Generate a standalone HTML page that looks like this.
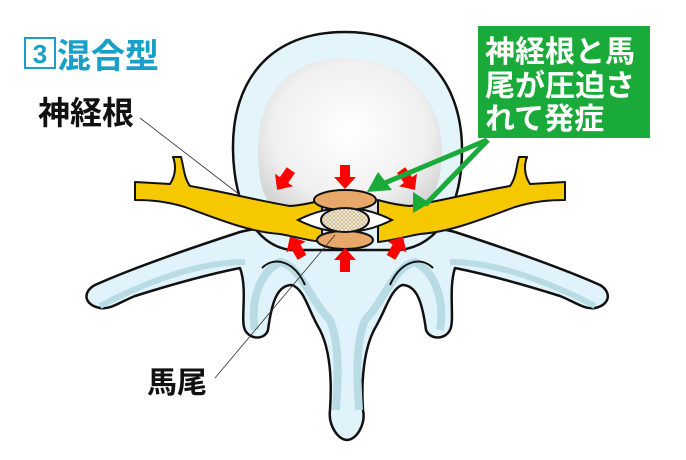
<!DOCTYPE html>
<html><head><meta charset="utf-8"><style>
html,body{margin:0;padding:0;background:#fff;}
svg{display:block}
text{font-family:"Liberation Sans","Noto Sans CJK JP",sans-serif;font-weight:bold}
</style></head><body>
<svg width="686" height="460" viewBox="0 0 686 460" xmlns="http://www.w3.org/2000/svg">
<rect width="686" height="460" fill="#fff"/>
<rect x="25" y="38" width="30" height="30" fill="#fff" stroke="#1aa0c8" stroke-width="2"/>
<text x="40" y="63" font-size="26" fill="#1aa0c8" text-anchor="middle">3</text>
<text x="57" y="68" font-size="34" fill="#1aa0c8">混合型</text>
<path d="M240,232 C200,245 140,265 95,285 C82,292 84,305 100,308 C110,310 120,302 135,296 C170,285 205,275 240,268 C248,290 240,320 245,330 C250,340 265,340 268,330 C272,300 278,285 292,285 C305,290 308,310 320,330 C330,350 332,380 330,410 C328,425 338,440 347,440 C356,440 366,425 363,410 C361,380 364,350 374,330 C386,310 390,290 402,285 C416,285 422,300 426,330 C430,340 445,340 450,330 C455,320 448,290 455,268 C490,275 525,285 560,296 C575,302 585,310 595,308 C610,305 612,292 600,285 C555,265 495,245 455,232 C420,222 275,222 240,232 Z" fill="#e1f3fa" stroke="#111" stroke-width="2.5" stroke-linejoin="round"/>
<path d="M100,306 C150,280 200,262 245,262" fill="none" stroke="#b8dbe4" stroke-width="6"/>
<path d="M595,306 C545,280 495,262 450,262" fill="none" stroke="#b8dbe4" stroke-width="6"/>
<path d="M255,330 C250,300 260,272 280,262 C300,265 310,300 330,320 C340,345 338,380 336,410" fill="none" stroke="#b8dbe4" stroke-width="8"/>
<path d="M440,330 C445,300 435,272 415,262 C395,265 385,300 365,320 C355,345 357,380 359,410" fill="none" stroke="#b8dbe4" stroke-width="8"/>
<path d="M262,268 C275,255 295,262 305,285" fill="none" stroke="#111" stroke-width="2"/>
<path d="M433,268 C420,255 400,262 390,285" fill="none" stroke="#111" stroke-width="2"/>
<path d="M345,32 C270,32 232,80 233,150 C234,205 255,245 290,250 L400,250 C440,245 462,205 462,150 C462,80 420,32 345,32 Z" fill="#e4f4fb" stroke="#111" stroke-width="2.5"/>
<defs><radialGradient id="g" cx="50%" cy="45%" r="60%"><stop offset="0" stop-color="#fff"/><stop offset="0.7" stop-color="#f0f0f0"/><stop offset="1" stop-color="#d4d4d4"/></radialGradient></defs>
<path d="M345,58 C285,58 258,100 258,150 C258,195 270,218 300,220 L390,220 C425,218 442,195 442,150 C442,100 405,58 345,58 Z" fill="url(#g)"/>
<path d="M135,182 L170,184 C176,175 176,165 173,157 L181,157 C184,168 184,178 190,186 C225,192 255,200 290,206 C305,205 315,202 322,200 L322,242 C305,240 292,236 280,234 C250,232 220,220 185,207 C165,201 150,200 135,200 Z" fill="#f5c800" stroke="#111" stroke-width="2" stroke-linejoin="round"/>
<path d="M565,182 L530,184 C524,175 524,165 527,157 L519,157 C516,168 516,178 510,186 C475,192 445,200 410,206 C395,205 385,202 378,200 L378,242 C395,240 408,236 420,234 C450,232 480,220 515,207 C535,201 550,200 565,200 Z" fill="#f5c800" stroke="#111" stroke-width="2" stroke-linejoin="round"/>
<path d="M298,220 Q345,196 392,220 Q345,244 298,220 Z" fill="#fff" stroke="#111" stroke-width="2"/>
<ellipse cx="345" cy="200" rx="31" ry="10" fill="#e8a869" stroke="#111" stroke-width="2"/>
<ellipse cx="345" cy="240" rx="28" ry="9" fill="#e8a869" stroke="#111" stroke-width="2"/>
<defs><pattern id="d" width="4" height="4" patternUnits="userSpaceOnUse"><rect width="4" height="4" fill="#f0e4c0"/><circle cx="2" cy="2" r="1.3" fill="#fff" stroke="#a08a60" stroke-width="0.5"/></pattern></defs>
<ellipse cx="345" cy="220" rx="24" ry="12" fill="url(#d)" stroke="#111" stroke-width="2"/>
<g fill="#f00">
<path d="M-5,-12 L5,-12 L5,0 L11,0 L0,12 L-11,0 L-5,0 Z" transform="translate(345,177)"/>
<path d="M-5,-12 L5,-12 L5,0 L11,0 L0,12 L-11,0 L-5,0 Z" transform="translate(345,260) rotate(180)"/>
<path d="M-5,-12 L5,-12 L5,0 L11,0 L0,12 L-11,0 L-5,0 Z" transform="translate(284,180) rotate(35)"/>
<path d="M-5,-12 L5,-12 L5,0 L11,0 L0,12 L-11,0 L-5,0 Z" transform="translate(408,180) rotate(-35)"/>
<path d="M-5,-12 L5,-12 L5,0 L11,0 L0,12 L-11,0 L-5,0 Z" transform="translate(296,247) rotate(150)"/>
<path d="M-5,-12 L5,-12 L5,0 L11,0 L0,12 L-11,0 L-5,0 Z" transform="translate(397,247) rotate(-150)"/>
</g>
<line x1="140" y1="118" x2="240" y2="195" stroke="#333" stroke-width="0.8"/>
<line x1="215" y1="378" x2="335" y2="235" stroke="#333" stroke-width="0.8"/>
<text x="38" y="124" font-size="32" fill="#111">神経根</text>
<text x="147" y="393" font-size="30" fill="#111">馬尾</text>
<rect x="478" y="26" width="172" height="112" fill="#1aaa3a"/>
<g stroke="#1aaa3a" stroke-width="5" fill="none">
<line x1="487" y1="140" x2="380" y2="185"/>
<line x1="488" y1="140" x2="425" y2="205"/>
</g>
<path d="M367,192 L378,172 L392,190 Z" fill="#1aaa3a"/>
<path d="M413,213 L413,192 L430,203 Z" fill="#1aaa3a"/>
<text fill="#fff" font-size="30">
<tspan x="485" y="62">神経根と馬</tspan>
<tspan x="485" y="96">尾が圧迫さ</tspan>
<tspan x="485" y="129">れて発症</tspan>
</text>
</svg>
</body></html>
